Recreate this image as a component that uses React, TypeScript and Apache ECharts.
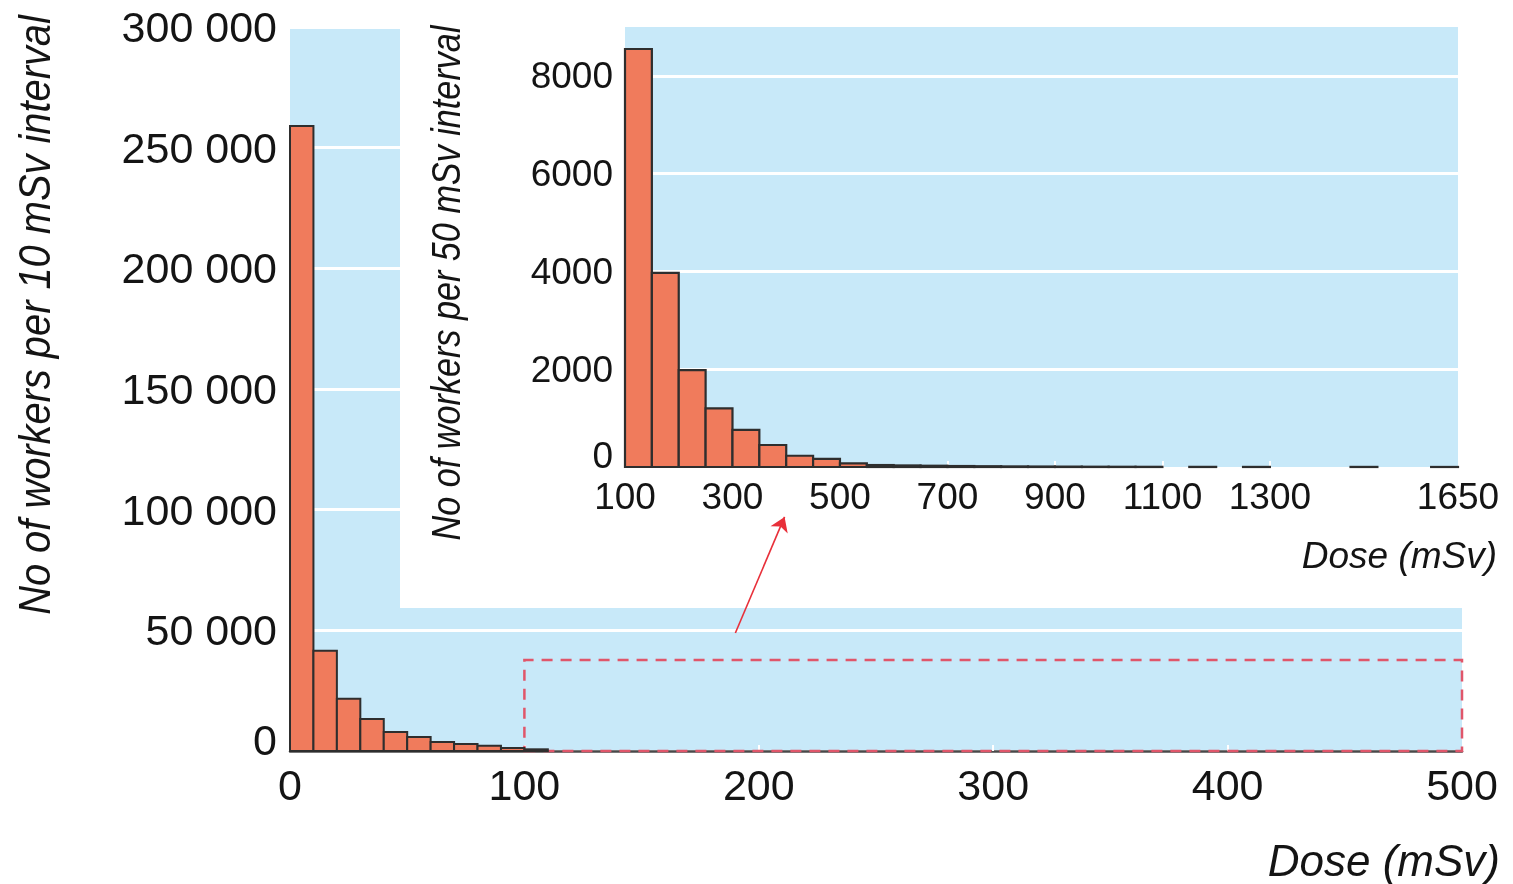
import React, { useEffect, useRef } from "react";
import * as echarts from "echarts";

// ---- Main histogram: workers per 10 mSv interval ----
const mainBinStarts = [0, 10, 20, 30, 40, 50, 60, 70, 80, 90, 100];
const mainBinWidth = 10;
const mainCounts = [259000, 41500, 21600, 13300, 7900, 5800, 3700, 2900, 2200, 1200, 700];
const mainXTicks = [100, 200, 300, 400];

// ---- Inset histogram: workers per 50 mSv interval (100–1650 mSv) ----
const insetBinStarts = [
  100, 150, 200, 250, 300, 350, 400, 450, 500, 550, 600, 650, 700, 750, 800, 850,
  900, 950, 1000, 1050, 1100, 1150, 1200, 1250, 1300, 1350, 1400, 1450, 1500, 1550, 1600,
];
const insetBinWidth = 50;
const insetCounts = [
  8550, 3970, 1980, 1200, 760, 450, 230, 165, 75, 40, 32, 26, 20, 16, 12, 10,
  8, 6, 5, 4, 0, 3, 0, 2, 0, 0, 0, 2, 0, 0, 1,
];
const insetXLabels = [100, 300, 500, 700, 900, 1100, 1300, 1650];
const insetXTicks = [300, 500, 700, 900, 1100, 1300];
const insetYLabels = [0, 2000, 4000, 6000, 8000];
const insetYTicks = [2000, 4000, 6000, 8000];

// ---- Annotations (in main-chart data units) ----
const zoomBoxFrom = [100, 0];
const zoomBoxTo = [500, 37700];
const arrowFrom = [190, 48900];
const arrowTo = [211, 97000];

const FONT = "'Liberation Sans', Arial, Helvetica, sans-serif";
const BLUE = "#c8e9f9";
const BAR = "#f07b5c";
const TEXT = "#141414";

function histRender(strokeWidth: number) {
  return (params: any, api: any) => {
    const x0 = api.value(0);
    const x1 = api.value(1);
    const v = api.value(2);
    if (!(v > 0)) return null;
    const p0 = api.coord([x0, v]);
    const p1 = api.coord([x1, 0]);
    return {
      type: "rect",
      shape: { x: p0[0], y: p0[1], width: p1[0] - p0[0], height: p1[1] - p0[1] },
      style: { fill: BAR, stroke: "#2e2e2e", lineWidth: strokeWidth },
    };
  };
}

export default function App() {
  const ref = useRef<HTMLDivElement>(null);
  useEffect(() => {
    const chart = echarts.init(ref.current!, null, { renderer: "svg" });
    const mainData = mainBinStarts.map((s, i) => [s, s + mainBinWidth, mainCounts[i]]);
    const insetData = insetBinStarts.map((s, i) => [s, s + insetBinWidth, insetCounts[i]]);

    const option: any = {
      animation: false,
      grid: [
        {
          left: 290, top: 27, width: 1172, height: 724,
          show: true, backgroundColor: BLUE, borderWidth: 0, z: 0,
        },
        {
          left: 625, top: 27, width: 833, height: 440,
          show: true, backgroundColor: BLUE, borderWidth: 0, z: 3,
        },
      ],
      xAxis: [
        {
          type: "value", gridIndex: 0, min: 0, max: 500, interval: 100, z: 0,
          axisLine: { show: true, lineStyle: { color: "#4a4a4a", width: 2.5 } },
          axisTick: { show: true, inside: true, length: 6, customValues: mainXTicks, lineStyle: { color: "#fff", width: 2 } },
          axisLabel: { fontSize: 43, fontFamily: FONT, color: TEXT, margin: 12, formatter: (v: number) => String(v) },
          splitLine: { show: false },
        },
        {
          type: "value", gridIndex: 1, min: 100, max: 1650, z: 3,
          axisLine: { show: false },
          axisTick: { show: true, inside: true, length: 6, customValues: insetXTicks, lineStyle: { color: "#fff", width: 2 } },
          axisLabel: {
            fontSize: 37, fontFamily: FONT, color: TEXT, margin: 11, customValues: insetXLabels,
            formatter: (v: number) => String(v),
          },
          splitLine: { show: false },
        },
      ],
      yAxis: [
        {
          type: "value", gridIndex: 0, min: 0, max: 300000, interval: 50000, z: 0,
          axisLine: { show: false },
          axisTick: { show: false },
          axisLabel: {
            fontSize: 43, fontFamily: FONT, color: TEXT, margin: 13,
            formatter: (v: number) => (v === 0 ? "{z|0}" : `${Math.round(v / 1000)} 000`),
            rich: { z: { fontSize: 43, fontFamily: FONT, color: TEXT, padding: [0, 0, 22, 0] } },
          },
          splitLine: { show: true, lineStyle: { color: "#ffffff", width: 3 } },
        },
        {
          type: "value", gridIndex: 1, min: 0, max: 9000, z: 3,
          axisLine: { show: false },
          axisTick: { show: false, customValues: insetYTicks },
          axisLabel: {
            fontSize: 37, fontFamily: FONT, color: TEXT, margin: 12, customValues: insetYLabels,
            formatter: (v: number) => (v === 0 ? "{z|0}" : String(v)),
            rich: { z: { fontSize: 37, fontFamily: FONT, color: TEXT, padding: [0, 0, 24, 0] } },
          },
          splitLine: { show: true, lineStyle: { color: "#ffffff", width: 3 } },
        },
      ],
      graphic: [
        {
          type: "rect", z: 1, silent: true,
          shape: { x: 400, y: 0, width: 1113, height: 608 },
          style: { fill: "#ffffff" },
        },
        {
          type: "text", z: 10, x: 35, y: 315, rotation: Math.PI / 2, scaleX: 0.885,
          style: {
            text: "No of workers per 10 mSv interval", fontSize: 45, fontStyle: "italic",
            fontFamily: FONT, fill: TEXT, align: "center", verticalAlign: "middle",
          },
        },
        {
          type: "text", z: 10, x: 446, y: 283, rotation: Math.PI / 2, scaleX: 0.855,
          style: {
            text: "No of workers per 50 mSv interval", fontSize: 40, fontStyle: "italic",
            fontFamily: FONT, fill: TEXT, align: "center", verticalAlign: "middle",
          },
        },
        {
          type: "text", z: 10, x: 1500, y: 860,
          style: {
            text: "Dose (mSv)", fontSize: 44, fontStyle: "italic",
            fontFamily: FONT, fill: TEXT, align: "right", verticalAlign: "middle",
          },
        },
        {
          type: "text", z: 10, x: 1497, y: 555,
          style: {
            text: "Dose (mSv)", fontSize: 37, fontStyle: "italic",
            fontFamily: FONT, fill: TEXT, align: "right", verticalAlign: "middle",
          },
        },
      ],
      series: [
        {
          type: "custom", name: "main", xAxisIndex: 0, yAxisIndex: 0, z: 2,
          encode: { x: [0, 1], y: 2 },
          renderItem: histRender(2),
          data: mainData,
          silent: true,
        },
        {
          type: "custom", name: "inset", xAxisIndex: 1, yAxisIndex: 1, z: 4,
          encode: { x: [0, 1], y: 2 },
          renderItem: histRender(2.2),
          data: insetData,
          silent: true,
        },
        {
          type: "line", name: "annot", xAxisIndex: 0, yAxisIndex: 0, data: [], silent: true,
          markArea: {
            silent: true,
            itemStyle: { color: "rgba(0,0,0,0)", borderColor: "#e0566a", borderWidth: 2.5, borderType: [11, 8] },
            label: { show: false },
            data: [[{ coord: zoomBoxFrom }, { coord: zoomBoxTo }]],
          },
          markLine: {
            silent: true, z: 6,
            symbol: ["none", "arrow"], symbolSize: 14,
            lineStyle: { color: "#e8303a", width: 1.6, type: "solid" },
            label: { show: false },
            data: [[{ coord: arrowFrom }, { coord: arrowTo }]],
          },
        },
      ],
    };
    chart.setOption(option);
    return () => chart.dispose();
  }, []);
  return <div ref={ref} style={{ position: "fixed", left: 0, top: 0, width: 1513, height: 884 }} />;
}
